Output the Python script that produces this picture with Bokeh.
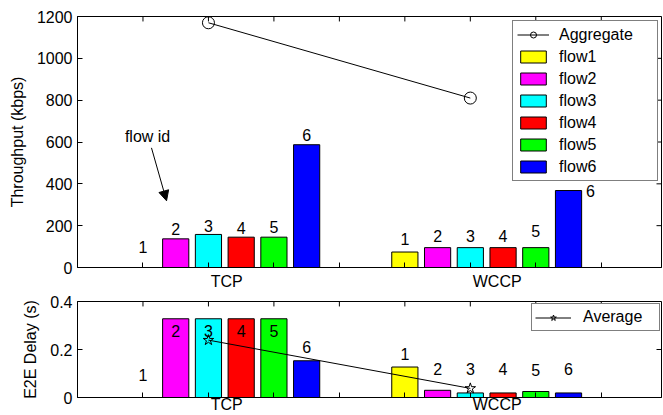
from bokeh.plotting import figure
from bokeh.models import (Range1d, FixedTicker, LinearAxis, Legend, LegendItem,
                          ColumnDataSource, Arrow, NormalHead, Label, NumeralTickFormatter)
from bokeh.layouts import column
from bokeh.embed import file_html
from bokeh.resources import INLINE
from bokeh.core.properties import value

# ---------------- data ----------------
groups = ["TCP", "WCCP"]
flows = ["flow1", "flow2", "flow3", "flow4", "flow5", "flow6"]
flow_ids = ["1", "2", "3", "4", "5", "6"]
colors = ["#ffff00", "#ff00ff", "#00ffff", "#ff0000", "#00ff00", "#0000ff"]

throughput_tcp = [0, 137, 158, 145, 145, 587]
throughput_wccp = [74, 95, 95, 95, 95, 368]
aggregate = [1170, 810]

delay_tcp = [0, 0.328, 0.328, 0.328, 0.328, 0.153]
delay_wccp = [0.127, 0.030, 0.019, 0.019, 0.025, 0.019]
average = [0.239, 0.038]

throughput_ticks = [0, 200, 400, 600, 800, 1000, 1200]
delay_ticks = [0, 0.2, 0.4]
x_ticks = [1, 2, 3, 4, 5, 6, 7, 8]
group_start = [1, 5]
group_label_pos = [2.28, 6.41]

FONT = "Liberation Sans"
FS = "16px"

X_MAX = 8.92
FIG_W = 663
BORDER_L = 77
BORDER_R = 2
FRAME_W = FIG_W - BORDER_L - BORDER_R
TICK_PX = 5

bar_step = 0.5
bar_width = 0.4
bar_x = [[g + bar_step * i for g in group_start] for i in range(6)]
summary_x = [g + 1 for g in group_start]


def add_axes(p, yticks, ylabel, y_max, frame_h, yfmt=None):
    left = LinearAxis(ticker=FixedTicker(ticks=yticks), axis_label=ylabel)
    if yfmt is not None:
        left.formatter = yfmt
    bottom = LinearAxis(ticker=FixedTicker(ticks=group_label_pos, minor_ticks=x_ticks),
                        major_label_overrides={group_label_pos[0]: groups[0],
                                               group_label_pos[1]: groups[1]})
    for ax in (left, bottom):
        ax.axis_line_color = "black"
        ax.axis_line_width = 1
        ax.major_tick_line_color = "black"
        ax.minor_tick_line_color = "black"
        ax.major_tick_in = TICK_PX
        ax.major_tick_out = 0
        ax.minor_tick_in = 0
        ax.minor_tick_out = 0
        ax.major_label_text_font = FONT
        ax.major_label_text_font_size = FS
        ax.major_label_text_color = "black"
        ax.axis_label_text_font = FONT
        ax.axis_label_text_font_size = FS
        ax.axis_label_text_font_style = "normal"
        ax.axis_label_text_color = "black"
    bottom.major_tick_in = 0
    bottom.minor_tick_in = TICK_PX
    left.axis_label_standoff = 8
    p.add_layout(left, "left")
    p.add_layout(bottom, "below")

    # inward tick marks on the top and right frame edges (MATLAB box style)
    ty = TICK_PX * y_max / frame_h
    tx = TICK_PX * X_MAX / FRAME_W
    p.segment(x0=x_ticks, y0=[y_max] * len(x_ticks), x1=x_ticks,
              y1=[y_max - ty] * len(x_ticks), line_color="black", line_width=1)
    p.segment(x0=[X_MAX] * len(yticks), y0=yticks, x1=[X_MAX - tx] * len(yticks),
              y1=yticks, line_color="black", line_width=1)
    return bottom


def base_fig(height, y_max, top_b, bot_b):
    p = figure(width=FIG_W, height=height, x_range=Range1d(0, X_MAX),
               y_range=Range1d(0, y_max),
               x_axis_location=None, y_axis_location=None,
               output_backend="svg", toolbar_location=None,
               min_border_left=BORDER_L, min_border_right=BORDER_R,
               min_border_top=top_b, min_border_bottom=bot_b)
    p.xgrid.visible = False
    p.ygrid.visible = False
    p.outline_line_color = "black"
    p.background_fill_color = "white"
    p.border_fill_color = "white"
    return p


def draw_bars(p, tcp, wccp):
    rs = []
    for i in range(6):
        src = ColumnDataSource(dict(x=bar_x[i], top=[tcp[i], wccp[i]]))
        r = p.vbar(x="x", top="top", width=bar_width, source=src,
                   fill_color=colors[i], line_color="black", line_width=1)
        rs.append(r)
    return rs


def draw_ids(p, tcp, wccp, lift_tcp, lift_wccp, dx_wccp=None):
    xs, ys, txt, xo, yo = [], [], [], [], []
    for i in range(6):
        xs += bar_x[i]
        ys += [tcp[i], wccp[i]]
        txt += [flow_ids[i], flow_ids[i]]
        xo += [0, 0 if dx_wccp is None else dx_wccp[i]]
        yo += [-lift_tcp[i], -lift_wccp[i]]
    src = ColumnDataSource(dict(x=xs, y=ys, t=txt, xo=xo, yo=yo))
    p.text(x="x", y="y", text="t", x_offset="xo", y_offset="yo", source=src,
           text_font=value(FONT), text_font_size=value(FS), text_align="center",
           text_baseline="middle", text_color="black")


# ---------------- top: throughput ----------------
TOP_FRAME_H = 253
p1 = base_fig(292, 1200, 16, 292 - 16 - TOP_FRAME_H)
add_axes(p1, throughput_ticks, "Throughput (kbps)", 1200, TOP_FRAME_H)
bars1 = draw_bars(p1, throughput_tcp, throughput_wccp)
agg_line = p1.line(summary_x, aggregate, line_color="black", line_width=1)
agg_pts = p1.scatter(summary_x, aggregate, marker="circle", size=12,
                     fill_color=None, line_color="black", line_width=1)
draw_ids(p1, throughput_tcp, throughput_wccp,
         [21, 10, 8, 9, 10, 10], [13, 12, 12, 12, 17, 0],
         [0, 0, 0, 0, 0, 22])

p1.add_layout(Label(x=1.07, y=627, text="flow id", text_font=FONT, text_font_size=FS,
                    text_align="center", text_baseline="middle", text_color="black"))
p1.add_layout(Arrow(x_start=1.13, y_start=572, x_end=1.36, y_end=319,
                    line_color="black", line_width=1,
                    end=NormalHead(size=10, fill_color="black", line_color="black")))

items1 = [LegendItem(label="Aggregate", renderers=[agg_line, agg_pts])]
items1 += [LegendItem(label=flows[i], renderers=[bars1[i]]) for i in range(6)]
leg1 = Legend(items=items1, location=(435, 86), orientation="vertical",
              glyph_width=32, glyph_height=15, label_height=19, spacing=3,
              padding=4, label_standoff=10, label_width=94, margin=0,
              border_line_color="black", border_line_width=1,
              background_fill_color="white", background_fill_alpha=1,
              label_text_font=FONT, label_text_font_size=FS, label_text_color="black")
p1.add_layout(leg1, "center")

# ---------------- bottom: delay ----------------
BOT_FRAME_H = 97
p2 = base_fig(123, 0.4, 9, 123 - 9 - BOT_FRAME_H)
bax = add_axes(p2, delay_ticks, "E2E Delay (s)", 0.4, BOT_FRAME_H,
               NumeralTickFormatter(format="0.[0]"))
bax.major_label_standoff = -2
bars2 = draw_bars(p2, delay_tcp, delay_wccp)
avg_line = p2.line(summary_x, average, line_color="black", line_width=1)
avg_pts = p2.scatter(summary_x, average, marker="star", size=11,
                     fill_color=None, line_color="black", line_width=1)
draw_ids(p2, delay_tcp, delay_wccp,
         [23, -12, -12, -12, -12, 14], [13, 21, 24, 24, 22, 24])

leg2 = Legend(items=[LegendItem(label="Average", renderers=[avg_line, avg_pts])],
              location=(454, 66), orientation="vertical",
              glyph_width=36, glyph_height=15, label_height=20, spacing=0,
              padding=3, label_standoff=12, label_width=73, margin=0,
              border_line_color="black", border_line_width=1,
              background_fill_color="white", background_fill_alpha=1,
              label_text_font=FONT, label_text_font_size=FS, label_text_color="black")
p2.add_layout(leg2, "center")

layout = column(p1, p2, spacing=0)
open("out.html", "w").write(file_html(layout, INLINE))
